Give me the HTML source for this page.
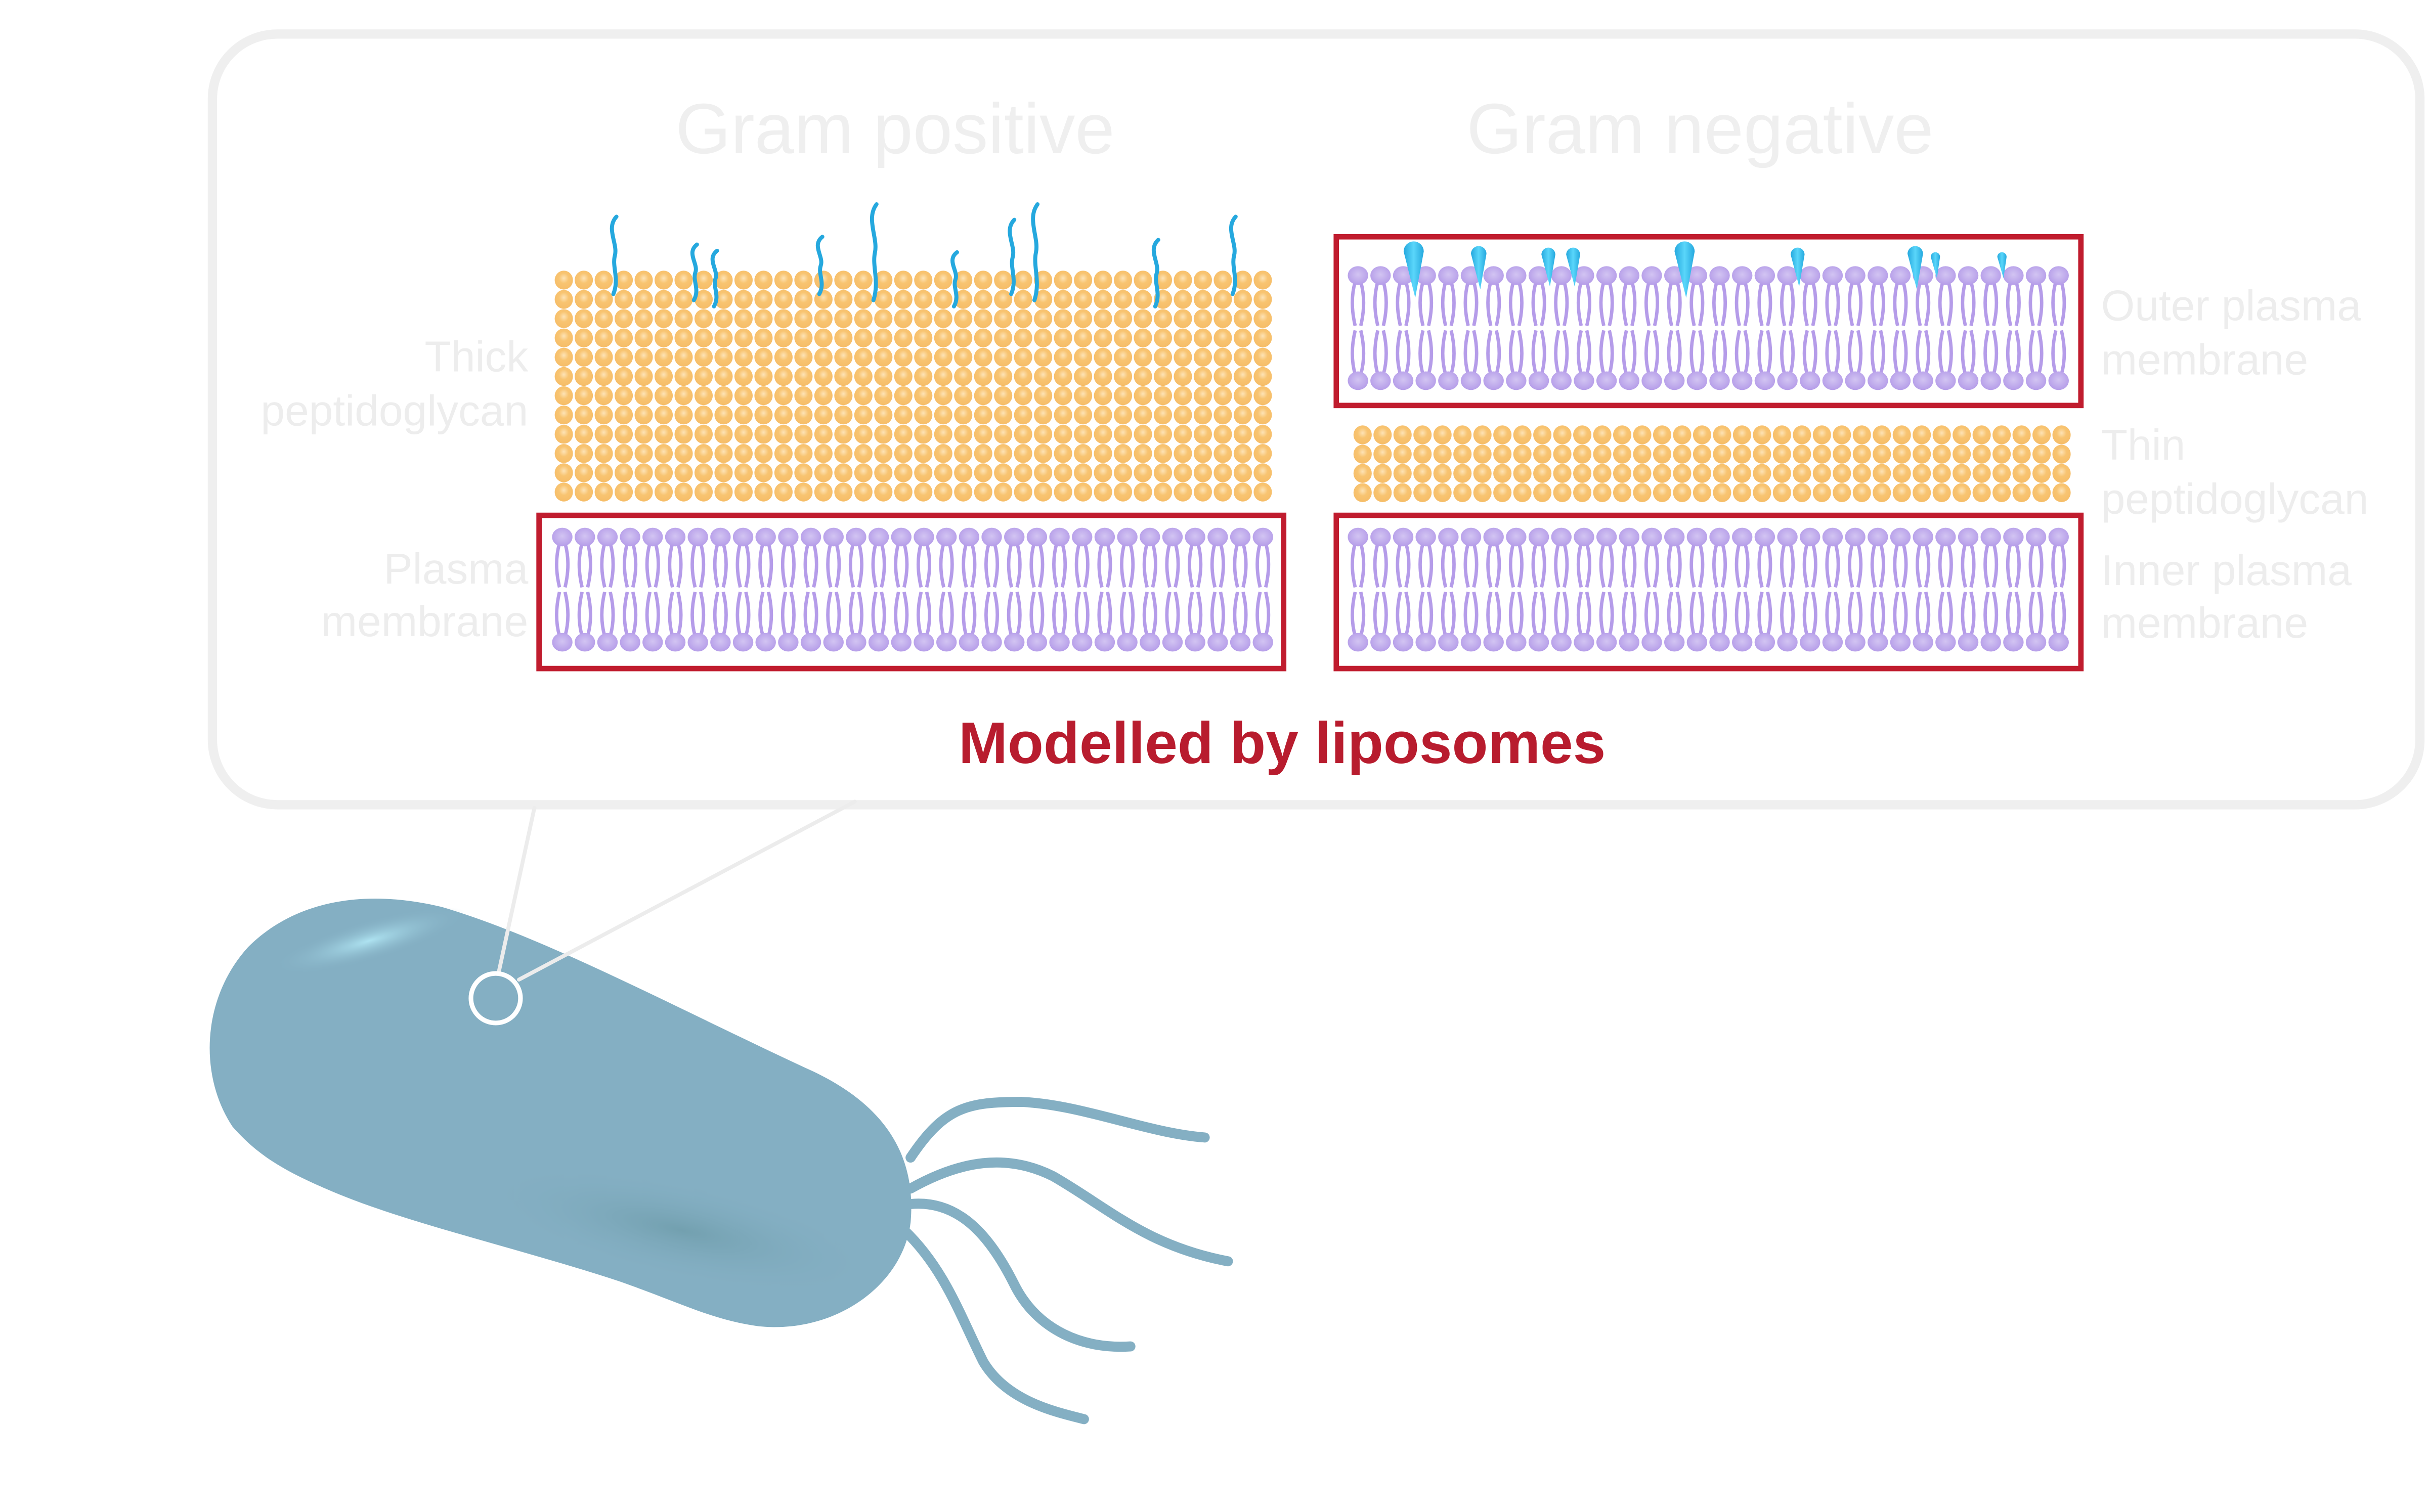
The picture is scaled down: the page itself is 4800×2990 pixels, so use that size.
<!DOCTYPE html>
<html><head><meta charset="utf-8">
<style>
html,body{margin:0;padding:0;background:#fff;}
svg{display:block;}
text{font-family:"Liberation Sans",sans-serif;}
</style></head>
<body>
<svg id="art" width="4800" height="2990" viewBox="0 0 1568 977" xmlns="http://www.w3.org/2000/svg">
<defs>
  <radialGradient id="pg" cx="0.5" cy="0.4" r="0.6">
    <stop offset="0" stop-color="#fde3b6"/><stop offset="0.45" stop-color="#f8c471"/><stop offset="1" stop-color="#f6bd68"/>
  </radialGradient>
  <radialGradient id="lh" cx="0.5" cy="0.45" r="0.6">
    <stop offset="0" stop-color="#d2c4f2"/><stop offset="1" stop-color="#b39ae8"/>
  </radialGradient>
  <linearGradient id="drop" x1="0" y1="0" x2="1" y2="0">
    <stop offset="0" stop-color="#25a8de"/><stop offset="0.5" stop-color="#5ad6fa"/><stop offset="1" stop-color="#25a8de"/>
  </linearGradient>
  <radialGradient id="hl" cx="0.5" cy="0.5" r="0.5">
    <stop offset="0" stop-color="#aee3f1"/><stop offset="1" stop-color="#84afc3" stop-opacity="0"/>
  </radialGradient>
  <radialGradient id="sh" cx="0.5" cy="0.5" r="0.5">
    <stop offset="0" stop-color="#6e9caa"/><stop offset="1" stop-color="#84afc3" stop-opacity="0"/>
  </radialGradient>
</defs>

<rect x="137" y="22" width="1426" height="498" rx="42" fill="#fff" stroke="#efefef" stroke-width="6"/>

<text x="578" y="99" font-size="46" fill="#efefef" text-anchor="middle">Gram positive</text>
<text x="1098" y="99" font-size="46" fill="#efefef" text-anchor="middle">Gram negative</text>

<g fill="#ededed" font-size="28">
<text text-anchor="end"><tspan x="341" y="240">Thick</tspan><tspan x="341" y="275">peptidoglycan</tspan></text>
<text text-anchor="end"><tspan x="341" y="377">Plasma</tspan><tspan x="341" y="411">membrane</tspan></text>
<text><tspan x="1357" y="207">Outer plasma</tspan><tspan x="1357" y="242">membrane</tspan></text>
<text><tspan x="1357" y="297">Thin</tspan><tspan x="1357" y="332">peptidoglycan</tspan></text>
<text><tspan x="1357" y="378">Inner plasma</tspan><tspan x="1357" y="412">membrane</tspan></text>
</g>

<g id="layers"></g>

<rect x="348" y="333" width="481" height="99" fill="none" stroke="#c01c2e" stroke-width="3.5"/>
<rect x="863" y="153" width="481" height="109" fill="none" stroke="#c01c2e" stroke-width="3.5"/>
<rect x="863" y="333" width="481" height="99" fill="none" stroke="#c01c2e" stroke-width="3.5"/>

<text x="828" y="493" font-size="38" font-weight="bold" fill="#b81c2e" text-anchor="middle">Modelled by liposomes</text>

<g>
  <g fill="none" stroke="#84afc3" stroke-width="6.5" stroke-linecap="round">
    <path d="M588,748 C610,715 625,712 660,712 C700,714 740,732 778,735"/>
    <path d="M588,768 C620,750 650,745 680,760 C715,780 740,805 793,815"/>
    <path d="M588,778 C620,775 640,800 655,830 C670,860 700,872 730,870"/>
    <path d="M584,795 C610,820 620,850 635,880 C650,905 680,912 700,917"/>
  </g>
  <path fill="#84afc3" d="M150,728 C128,695 130,645 160,612 C190,582 235,574 285,586 C350,605 430,648 520,690 C570,712 592,745 588,790 C583,830 540,862 490,857 C460,853 440,842 400,828 C330,805 260,790 210,768 C180,755 165,745 150,728 Z"/>
  <ellipse cx="238" cy="608" rx="65" ry="13" transform="rotate(-16 238 608)" fill="url(#hl)"/>
  <ellipse cx="440" cy="795" rx="130" ry="32" transform="rotate(12 440 795)" fill="url(#sh)" opacity="0.8"/>
</g>

<g stroke-linecap="round">
  <line x1="322" y1="628" x2="345" y2="522" stroke="#ececec" stroke-width="2.5"/>
  <line x1="335" y1="633" x2="552" y2="518" stroke="#ececec" stroke-width="2.5"/>
  <circle cx="320" cy="645" r="16" fill="none" stroke="#fff" stroke-width="3"/>
</g>
</svg>
<script>
const NS='http://www.w3.org/2000/svg';
const layers=document.getElementById('layers');
// squiggle (teichoic acid) positions & top heights on gram positive
const squiggleX=[395,447,460,528,563,615,652,667,745,795];
const squiggleTop=[140,158,162,153,132,163,142,132,155,140];
// outer membrane LPS drop positions & sizes
const dropX=[913,955,1000,1016,1088,1161,1237,1250,1293];
const dropSize=[1.3,1.0,0.9,0.9,1.3,0.9,1.0,0.6,0.6];
function mk(tag,attrs,parent){const e=document.createElementNS(NS,tag);for(const k in attrs)e.setAttribute(k,attrs[k]);(parent||layers).appendChild(e);return e;}
function grid(name,x0,y0,cols,rows){
  const g=mk('g',{});
  
  
  for(let r=0;r<rows;r++)for(let c=0;c<cols;c++){
    const e=mk('ellipse',{cx:x0+c*12.9,cy:y0+r*12.45,rx:5.9,ry:6.1,fill:'url(#pg)'},g);
    
    
  }
}
function bilayer(name,x0,yTop,yBot,n){
  const g=mk('g',{});
  
  
  const mid=(yTop+yBot)/2;
  let d='';
  for(let i=0;i<n;i++){
    const x=x0+i*14.6;
    for(const s of [-1,1]){
      d+=`M${x+s*1.8},${yTop+4} Q${x+s*5.5},${(yTop+mid)/2} ${x+s*1.8},${mid-1.5} `;
      d+=`M${x+s*1.8},${yBot-4} Q${x+s*5.5},${(yBot+mid)/2} ${x+s*1.8},${mid+1.5} `;
    }
  }
  const p=mk('path',{d:d,fill:'none',stroke:'#b59ce9','stroke-width':2.2},g);
  
  
  for(let i=0;i<n;i++){
    const x=x0+i*14.6;
    for(const y of [yTop,yBot]){
      const h=mk('ellipse',{cx:x,cy:y,rx:6.6,ry:6,fill:'url(#lh)'},g);
      
      
    }
  }
}
grid('gp-thick-peptidoglycan',364,181,36,12);
grid('gn-thin-peptidoglycan',880,281,36,4);
bilayer('gp-plasma-membrane',363,347,415,32);
bilayer('gn-outer-membrane',877,178,246,32);
bilayer('gn-inner-membrane',877,347,415,32);
squiggleX.forEach((x,i)=>{
  const t=squiggleTop[i], b=190+(i%3)*4, h=b-t;
  const d=`M${x+3},${t} C${x-4},${t+h*0.15} ${x+4},${t+h*0.35} ${x+2},${t+h*0.5} C${x},${t+h*0.65} ${x+5},${t+h*0.8} ${x+1},${b}`;
  const p=mk('path',{d:d,fill:'none',stroke:'#25a8de','stroke-width':2.6,'stroke-linecap':'round'});
  
  
});
dropX.forEach((x,i)=>{
  const s=dropSize[i], top=169-10*s, r=5*s, tip=top+28*s;
  const d=`M${x-r},${top+r} A${r},${r} 0 0 1 ${x+r},${top+r} L${x+1},${tip} Z`;
  const p=mk('path',{d:d,fill:'url(#drop)'});
  
  
});
</script>
</body></html>
